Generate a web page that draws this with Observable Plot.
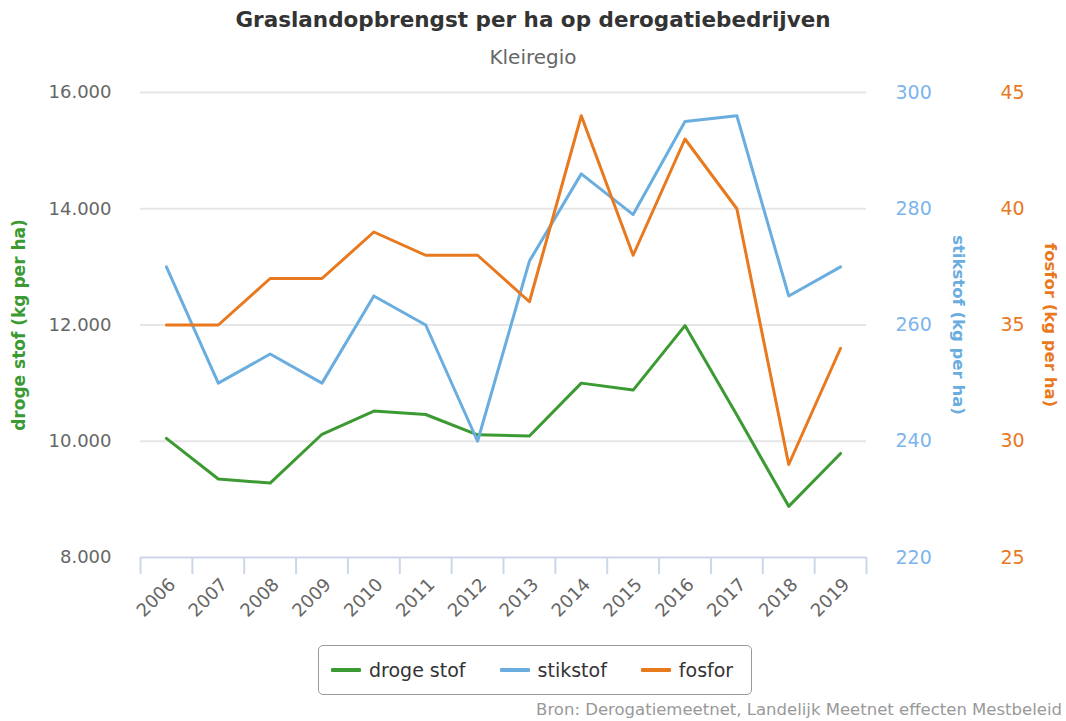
<!DOCTYPE html>
<html>
<head>
<meta charset="utf-8">
<script src="https://cdn.jsdelivr.net/npm/d3@7"></script>
<script src="https://cdn.jsdelivr.net/npm/@observablehq/plot@0.6"></script>
<style>
  html, body { margin: 0; padding: 0; background: #fff; overflow: hidden; }
  #wrap { position: relative; width: 1066px; height: 721px; font-family: "DejaVu Sans", Verdana, sans-serif; }
  #title { position: absolute; left: 0; top: 7px; width: 1066px; text-align: center; font-weight: bold; font-size: 21.5px; color: #333; }
  #subtitle { position: absolute; left: 0; top: 45px; width: 1066px; text-align: center; font-size: 20px; color: #666; }
  #chart { position: absolute; left: 0; top: 75px; }
  #legend { position: absolute; left: 318px; top: 645px; border: 1px solid #999; border-radius: 5px;
            display: flex; align-items: center; justify-content: flex-start; padding-left: 12px; box-sizing: border-box; width: 434px; height: 50px;
            gap: 34px; font-size: 19px; color: #333; }
  #legend .item { display: flex; align-items: center; gap: 8px; }
  #legend .sw { width: 30px; height: 4px; border-radius: 1px; }
  #source { position: absolute; right: 4px; top: 700px; font-size: 16.5px; color: #999; }
</style>
</head>
<body>
<div id="wrap">
  <div id="title"></div>
  <div id="subtitle"></div>
  <div id="chart"></div>
  <div id="legend"></div>
  <div id="source"></div>
</div>
<script>
const titleText = "Graslandopbrengst per ha op derogatiebedrijven";
const subtitleText = "Kleiregio";
const sourceText = "Bron: Derogatiemeetnet, Landelijk Meetnet effecten Mestbeleid";

const years = [2006, 2007, 2008, 2009, 2010, 2011, 2012, 2013, 2014, 2015, 2016, 2017, 2018, 2019];
const drogeStof = [10050, 9350, 9280, 10120, 10520, 10460, 10110, 10090, 11000, 10880, 11990, 10450, 8880, 9790];
const stikstof = [270, 250, 255, 250, 265, 260, 240, 271, 286, 279, 295, 296, 265, 270];
const fosfor = [35, 35, 37, 37, 39, 38, 38, 36, 44, 38, 43, 40, 29, 34];

const leftTicks = [8000, 10000, 12000, 14000, 16000];
const stikstofTicks = [220, 240, 260, 280, 300];
const fosforTicks = [25, 30, 35, 40, 45];

const seriesNames = ["droge stof", "stikstof", "fosfor"];
const seriesColors = ["#3c9a32", "#6aaddf", "#e8791e"];
const axisTitles = ["droge stof (kg per ha)", "stikstof (kg per ha)", "fosfor (kg per ha)"];

// map secondary axes into the primary y domain
const leftDomain = [leftTicks[0], leftTicks[leftTicks.length - 1]];
const stDomain = [stikstofTicks[0], stikstofTicks[stikstofTicks.length - 1]];
const foDomain = [fosforTicks[0], fosforTicks[fosforTicks.length - 1]];
const lin = (dom) => d3.scaleLinear().domain(dom).range(leftDomain);
const stToY = lin(stDomain), foToY = lin(foDomain);

const rows = [];
years.forEach((yr, i) => {
  rows.push({year: yr, series: seriesNames[0], y: drogeStof[i]});
  rows.push({year: yr, series: seriesNames[1], y: stToY(stikstof[i])});
  rows.push({year: yr, series: seriesNames[2], y: foToY(fosfor[i])});
});

const bounds = years.map(y => y - 0.5).concat([years[years.length - 1] + 0.5]);
const fmtThousands = d => d3.format(",")(d).replace(/,/g, ".");

const chart = Plot.plot({
  width: 1066,
  height: 565,
  marginTop: 17,
  marginBottom: 83,
  marginLeft: 140,
  marginRight: 200,
  style: {fontFamily: "DejaVu Sans, Verdana, sans-serif", background: "#fff"},
  x: {domain: [bounds[0], bounds[bounds.length - 1]]},
  y: {domain: leftDomain},
  color: {domain: seriesNames, range: seriesColors},
  marks: [
    Plot.gridY(leftTicks.slice(1), {stroke: "#e6e6e6", strokeOpacity: 1, strokeWidth: 2}),
    Plot.ruleY([leftTicks[0]], {stroke: "#ccd6eb", strokeWidth: 2}),
    Plot.axisX({ticks: bounds, tickSize: 17, tickFormat: () => "", stroke: "#ccd6eb", strokeWidth: 2, label: null}),
    Plot.axisX({ticks: years, tickSize: 0, tickPadding: 24, tickRotate: -45, tickFormat: d => String(d), fontSize: 18, fill: "#666", label: null, dx: 6}),
    Plot.axisY({anchor: "left", ticks: leftTicks, tickSize: 0, tickPadding: 29, tickFormat: fmtThousands, fontSize: 18, fill: "#666", label: null}),
    Plot.axisY({anchor: "right", ticks: leftTicks, tickSize: 0, tickPadding: 29, tickFormat: d => String(Math.round(stToY.invert(d))), fontSize: 19, fill: "#7cb5ec", label: null}),
    Plot.axisY({anchor: "right", ticks: leftTicks, tickSize: 0, tickPadding: 134, tickFormat: d => String(Math.round(foToY.invert(d))), fontSize: 19, fill: "#e8791e", label: null}),
    Plot.text([axisTitles[0]], {frameAnchor: "left", text: d => d, rotate: -90, dx: -121, textAnchor: "middle", fill: seriesColors[0], fontWeight: "bold", fontSize: 17}),
    Plot.text([axisTitles[1]], {frameAnchor: "right", text: d => d, rotate: 90, dx: 92, textAnchor: "middle", fill: "#6aaddf", fontWeight: "bold", fontSize: 16.5}),
    Plot.text([axisTitles[2]], {frameAnchor: "right", text: d => d, rotate: 90, dx: 184, textAnchor: "middle", fill: seriesColors[2], fontWeight: "bold", fontSize: 16.5}),
    Plot.line(rows, {x: "year", y: "y", z: "series", stroke: "series", strokeWidth: 3, curve: "linear"})
  ]
});
document.getElementById("chart").appendChild(chart);

document.getElementById("title").textContent = titleText;
document.getElementById("subtitle").textContent = subtitleText;
document.getElementById("source").textContent = sourceText;
const legend = document.getElementById("legend");
seriesNames.forEach((name, i) => {
  const item = document.createElement("div");
  item.className = "item";
  const sw = document.createElement("div");
  sw.className = "sw";
  sw.style.background = seriesColors[i];
  const label = document.createElement("span");
  label.textContent = name;
  item.appendChild(sw);
  item.appendChild(label);
  legend.appendChild(item);
});
</script>
</body>
</html>
